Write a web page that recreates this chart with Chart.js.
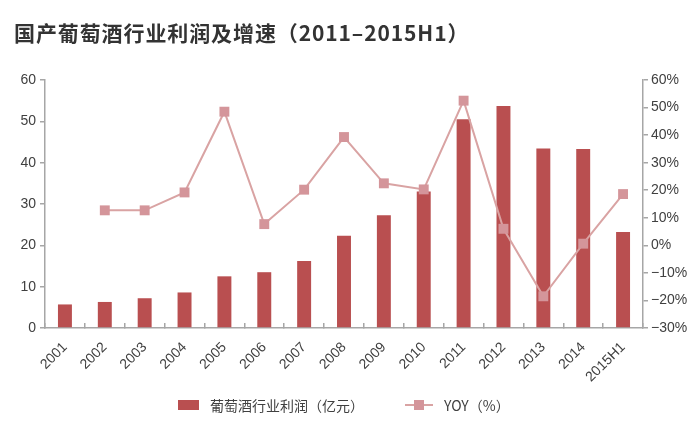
<!DOCTYPE html>
<html>
<head>
<meta charset="utf-8">
<script src="https://cdn.jsdelivr.net/npm/chart.js@4.4.1/dist/chart.umd.min.js"></script>
<style>
  html, body { margin:0; padding:0; background:#fff; }
  #wrap { position:relative; width:700px; height:429px; font-family:"Liberation Sans","Noto Sans CJK SC",sans-serif; }
  #title { position:absolute; left:14px; top:17px; font-size:21px; font-weight:bold; color:#333; font-family:"Noto Sans CJK SC","Liberation Sans",sans-serif; letter-spacing:0.9px; }
  #chart { position:absolute; left:0; top:0; }
  #legend { position:absolute; top:395px; left:0; width:700px; font-size:14px; color:#404040; font-family:"Noto Sans CJK SC","Liberation Sans",sans-serif; }
  .lg { position:absolute; top:0; display:flex; align-items:center; height:20px; }
  .box { width:21px; height:10px; background:#b94f50; margin-right:11px; }
  .ln { position:relative; width:28px; height:2px; background:#d9a3a3; margin-right:11px; }
  .ln span { position:absolute; left:9px; top:-4px; width:10px; height:10px; background:#d4959a; }
</style>
</head>
<body>
<div id="wrap">
  <canvas id="chart" width="700" height="429"></canvas>
  <div id="title">国产葡萄酒行业利润及增速（2011–2015H1）</div>
  <div id="legend">
    <div class="lg" style="left:178px"><div class="box"></div>葡萄酒行业利润（亿元）</div>
    <div class="lg" style="left:405px"><div class="ln"><span></span></div>YOY（%）</div>
  </div>
</div>
<script>
const YEARS = ['2001','2002','2003','2004','2005','2006','2007','2008','2009','2010','2011','2012','2013','2014','2015H1'];
const PROFIT = [5.7, 6.3, 7.2, 8.6, 12.5, 13.5, 16.2, 22.3, 27.3, 33.0, 50.5, 53.7, 43.4, 43.3, 23.2];
const YOY = [null, 12.7, 12.7, 19.2, 48.5, 7.7, 20.2, 39.3, 22.5, 20.3, 52.5, 6.0, -18.5, 0.6, 18.6];

const AXIS = '#a6a6a6';
const TXT = '#404040';
const FONT = { family: '"Liberation Sans", sans-serif', size: 14 };

function el(id){ return document.getElementById(id); }

const ctx = el('chart').getContext('2d');
new Chart(ctx, {
  data: {
    labels: YEARS,
    datasets: [
      {
        type: 'line', label: 'YOY（%）', data: YOY, yAxisID: 'y1',
        borderColor: '#d9a3a3', borderWidth: 2, backgroundColor: '#d4959a',
        pointStyle: 'rect', pointRadius: 7, pointBorderWidth: 0, pointHoverRadius: 7,
        tension: 0, spanGaps: true, order: 0
      },
      {
        type: 'bar', label: '葡萄酒行业利润（亿元）', data: PROFIT, yAxisID: 'y',
        backgroundColor: '#b94f50', barPercentage: 0.35, categoryPercentage: 1, order: 1
      }
    ]
  },
  options: {
    responsive: false,
    animation: false,
    layout: { padding: { top: 80, left: 0, right: 0, bottom: 0 } },
    plugins: { legend: { display: false }, tooltip: { enabled: false } },
    scales: {
      x: {
        offset: true,
        // tick marks point up into the plot, as in the source
        grid: { offset: true, drawOnChartArea: false, drawTicks: true, tickLength: -5, color: AXIS, lineWidth: 1.5 },
        border: { color: AXIS, width: 1.5 },
        ticks: { color: TXT, font: FONT, maxRotation: 45, minRotation: 45, padding: 16 },
        afterFit: s => { s.height = 101; }
      },
      y: {
        position: 'left', min: 0, max: 60,
        grid: { drawOnChartArea: false, drawTicks: true, tickLength: 5, color: AXIS, lineWidth: 1.5 },
        border: { color: AXIS, width: 1.5 },
        ticks: { stepSize: 10, color: TXT, font: FONT, padding: 4 },
        afterFit: s => { s.width = 45; }
      },
      y1: {
        position: 'right', min: -30, max: 60,
        grid: { drawOnChartArea: false, drawTicks: true, tickLength: 5, color: AXIS, lineWidth: 1.5 },
        border: { color: AXIS, width: 1.5 },
        ticks: {
          stepSize: 10, color: TXT, font: FONT, padding: 3,
          callback: v => (v < 0 ? '\u2212' + Math.abs(v) : v) + '%'
        },
        afterFit: s => { s.width = 57; }
      }
    }
  }
});
</script>
</body>
</html>
